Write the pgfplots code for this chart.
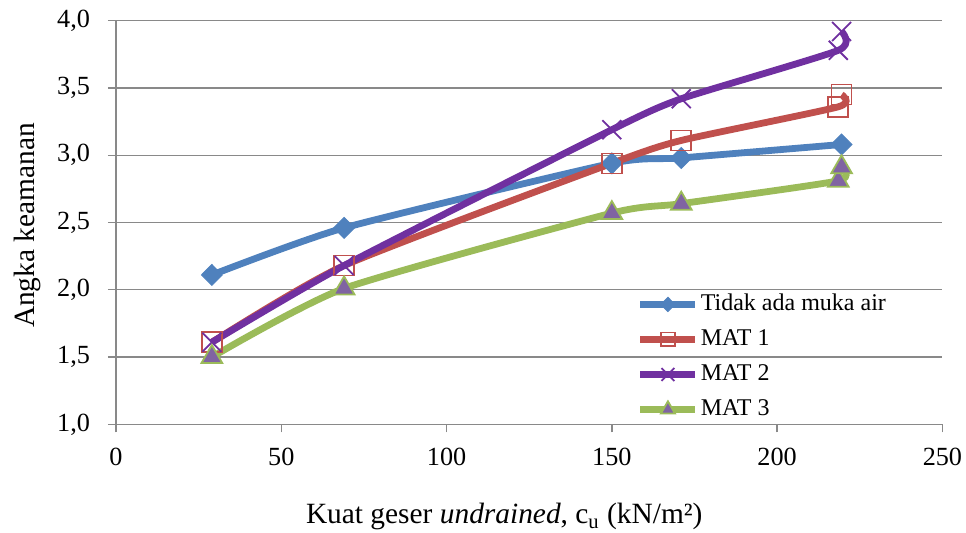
\documentclass[border=0pt]{standalone}
\usepackage{fontspec}
\setmainfont{Liberation Serif}
\usepackage{pgfplots}
\pgfplotsset{compat=1.18}
\definecolor{cblue}{HTML}{4F81BD}
\definecolor{cred}{HTML}{C0504D}
\definecolor{cpurple}{HTML}{7030A0}
\definecolor{cgreen}{HTML}{9BBB59}
\definecolor{cviolet}{HTML}{8064A2}
\definecolor{cgrid}{HTML}{898989}
\begin{document}
\begin{tikzpicture}[font=\fontsize{12bp}{14bp}\selectfont]
\begin{axis}[
  scale only axis, width=413.2bp, height=201.8bp,
  xmin=0, xmax=250, ymin=1, ymax=4,
  xtick={0,50,...,250}, ytick={1,1.5,...,4},
  axis lines*=left,
  axis line style={cgrid, line width=0.7bp},
  tick align=outside,
  major tick length=4bp,
  tick style={cgrid, line width=0.7bp},
  ymajorgrids, grid style={cgrid, line width=0.7bp},
  /pgf/number format/assume math mode=true,
  yticklabel style={font=\fontsize{13.1bp}{15bp}\selectfont, xshift=-5.5bp,
    /pgf/number format/.cd, fixed, fixed zerofill, precision=1, use comma},
  xticklabel style={font=\fontsize{13.1bp}{15bp}\selectfont, yshift=-4.5bp,
    /pgf/number format/.cd, fixed},
  xlabel={Kuat geser \textit{undrained}, c\textsubscript{u} (kN/m²)},
  ylabel={Angka keamanan},
  xlabel style={font=\fontsize{14.7bp}{17bp}\selectfont, at={(axis description cs:0.4698,-0.229)}, anchor=center},
  ylabel style={font=\fontsize{14.7bp}{17bp}\selectfont, at={(axis description cs:-0.1077,0.4926)}, anchor=center},
  legend style={at={(0.630,0.3326)}, anchor=north west, draw=none, fill=none,
    inner sep=0pt, row sep=3.5bp,
    nodes={inner sep=1bp, text height=9bp, text depth=3bp, anchor=west}},
  legend cell align=left,
  legend image code/.code={\draw[mark repeat=2,mark phase=2,mark size=0.68\pgfplotmarksize] plot coordinates {(0bp,0bp)(13.75bp,0bp)(27.5bp,0bp)};},
  every axis plot/.append style={line width=3.4bp, smooth, tension=0.35},
]
\addplot[cblue, mark=diamond*, mark size=5.2bp, mark options={solid, fill=cblue, draw=cblue, line width=0.5bp, xscale=1.33}]
  coordinates {(29,2.11) (69,2.46) (150,2.94) (171,2.98) (219.5,3.08)};
\addlegendentry{Tidak ada muka air}
\addplot[cred, mark=square, mark size=5bp, mark options={solid, draw=cred, line width=0.8bp}]
  coordinates {(29,1.61) (69,2.18) (150,2.94) (171,3.11) (218.5,3.36) (219.5,3.45)};
\addlegendentry{MAT 1}
\addplot[cpurple, mark=x, mark size=6.7bp, mark options={solid, draw=cpurple, line width=0.9bp}]
  coordinates {(29,1.61) (69,2.18) (150,3.19) (171,3.42) (218.5,3.78) (219.5,3.92)};
\addlegendentry{MAT 2}
\addplot[cgreen, mark=triangle*, mark size=6bp, mark options={solid, fill=cviolet, draw=cgreen, line width=0.9bp}]
  coordinates {(29,1.50) (69,2.01) (150,2.57) (171,2.64) (218.5,2.81) (219.5,2.91)};
\addlegendentry{MAT 3}
\end{axis}
\pgfresetboundingbox
\path ([xshift=-58bp,yshift=-54.3bp]current axis.south west) rectangle ([xshift=11.8bp,yshift=10.35bp]current axis.north east);
\end{tikzpicture}
\end{document}
